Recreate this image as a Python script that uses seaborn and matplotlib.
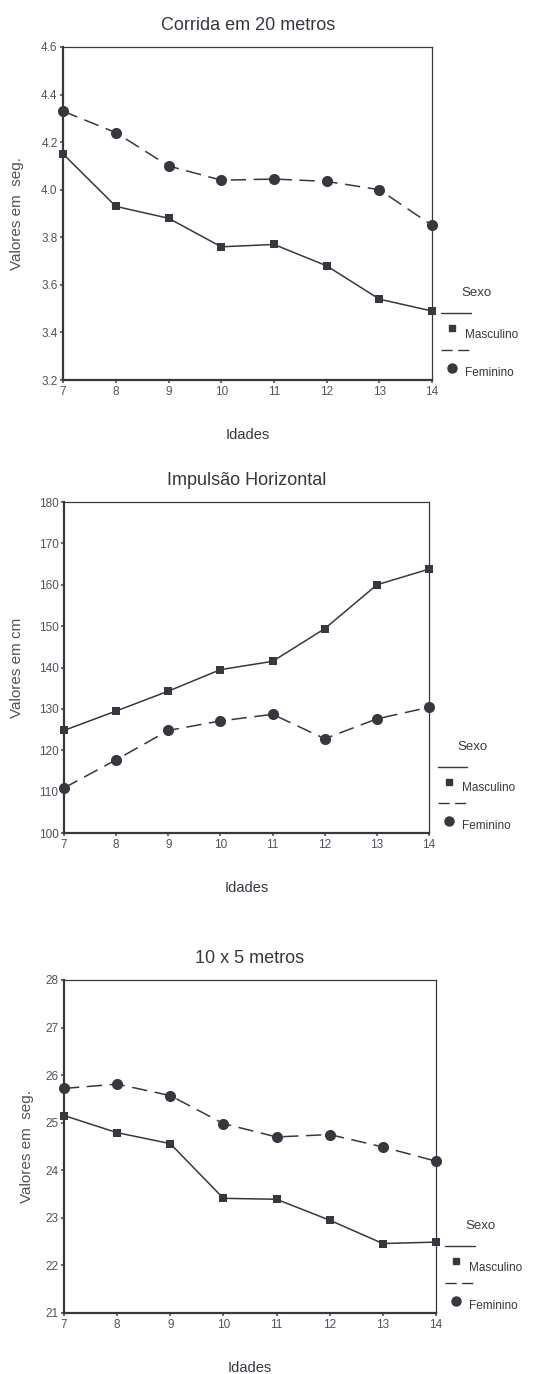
import matplotlib

matplotlib.use("Agg")
import matplotlib.pyplot as plt
import pandas as pd
import seaborn as sns

# ages on the x axis
idades = [7, 8, 9, 10, 11, 12, 13, 14]

# Corrida em 20 metros (seg.)
corrida_masc = [4.15, 3.93, 3.88, 3.76, 3.77, 3.68, 3.54, 3.49]
corrida_fem = [4.33, 4.24, 4.10, 4.04, 4.045, 4.035, 4.00, 3.85]

# Impulsão Horizontal (cm)
impulsao_masc = [124.8, 129.5, 134.3, 139.5, 141.5, 149.4, 160.0, 163.8]
impulsao_fem = [110.9, 117.7, 124.8, 127.1, 128.7, 122.8, 127.6, 130.4]

# 10 x 5 metros (seg.)
vaivem_masc = [25.15, 24.79, 24.56, 23.41, 23.39, 22.95, 22.46, 22.49]
vaivem_fem = [25.72, 25.81, 25.57, 24.98, 24.70, 24.75, 24.49, 24.19]

sexos = ["Masculino", "Feminino"]

INK = "#3b3540"
GREY = "#55505a"

sns.set_style("ticks")
plt.rcParams["font.family"] = ["Liberation Sans", "DejaVu Sans"]


def _long_frame(masc, fem):
    return pd.DataFrame(
        {
            "Idades": idades * 2,
            "Valor": masc + fem,
            "Sexo": [sexos[0]] * len(idades) + [sexos[1]] * len(idades),
        }
    )


def _draw_legend(ax):
    t = ax.transAxes
    ax.text(1.12, 0.26, "Sexo", transform=t, ha="center", va="center", fontsize=9.5, color=INK)
    ax.plot([1.025, 1.105], [0.20, 0.20], transform=t, color=INK, lw=1.0, clip_on=False)
    ax.plot([1.055], [0.155], transform=t, marker="s", ms=4, color=INK, clip_on=False, lw=0)
    ax.text(1.09, 0.135, "Masculino", transform=t, ha="left", va="center", fontsize=8.5, color=INK)
    ax.plot([1.025, 1.105], [0.09, 0.09], transform=t, color=INK, lw=1.0, dashes=(8, 4), clip_on=False)
    ax.plot([1.055], [0.035], transform=t, marker="o", ms=6.5, color=INK, clip_on=False, lw=0)
    ax.text(1.09, 0.022, "Feminino", transform=t, ha="left", va="center", fontsize=8.5, color=INK)


def _panel(fig, rect, title, masc, fem, ylim, yticks, ylabel, ylabel_x):
    ax = fig.add_axes(rect)
    df = _long_frame(masc, fem)
    sns.lineplot(
        data=df[df["Sexo"] == "Masculino"], x="Idades", y="Valor", ax=ax,
        color=INK, lw=1.1, marker="s", markersize=5.5, markeredgewidth=0, clip_on=False,
    )
    sns.lineplot(
        data=df[df["Sexo"] == "Feminino"], x="Idades", y="Valor", ax=ax,
        color=INK, lw=1.1, marker="o", markersize=8, markeredgewidth=0,
        dashes=False, clip_on=False,
    )
    ax.lines[-1].set_dashes((10, 5))
    ax.set_xlim(idades[0], idades[-1])
    ax.set_ylim(*ylim)
    ax.set_xticks(idades)
    ax.set_yticks(yticks)
    if isinstance(yticks[0], float):
        ax.set_yticklabels([f"{v:.1f}" for v in yticks])
    ax.tick_params(axis="both", labelsize=8.5, colors=GREY, length=2.5, width=1.2, pad=1.5)
    for side, sp in ax.spines.items():
        sp.set_visible(True)
        sp.set_color(INK)
        sp.set_linewidth(1.6 if side in ("left", "bottom") else 0.9)
    ax.set_title(title, fontsize=13, color=INK, pad=12)
    ax.set_xlabel("Idades", fontsize=10.5, color=INK, labelpad=22)
    ax.set_ylabel(ylabel, fontsize=11, color=GREY)
    ax.yaxis.set_label_coords(ylabel_x, 0.5)
    _draw_legend(ax)
    return ax


fig = plt.figure(figsize=(5.54, 13.74), dpi=100)
fig.patch.set_facecolor("white")

_panel(fig, [0.114, 0.7234, 0.666, 0.2424], "Corrida em 20 metros",
       corrida_masc, corrida_fem, (3.2, 4.6),
       [3.2, 3.4, 3.6, 3.8, 4.0, 4.2, 4.4, 4.6], "Valores em  seg.", -0.107)
_panel(fig, [0.1155, 0.3937, 0.659, 0.2409], "Impulsão Horizontal",
       impulsao_masc, impulsao_fem, (100, 180),
       [100, 110, 120, 130, 140, 150, 160, 170, 180], "Valores em cm", -0.11)
_panel(fig, [0.1155, 0.0444, 0.6715, 0.2424], "10 x 5 metros",
       vaivem_masc, vaivem_fem, (21, 28),
       [21, 22, 23, 24, 25, 26, 27, 28], "Valores em  seg.", -0.08)

fig.savefig("out.png", dpi=100, facecolor="white")
